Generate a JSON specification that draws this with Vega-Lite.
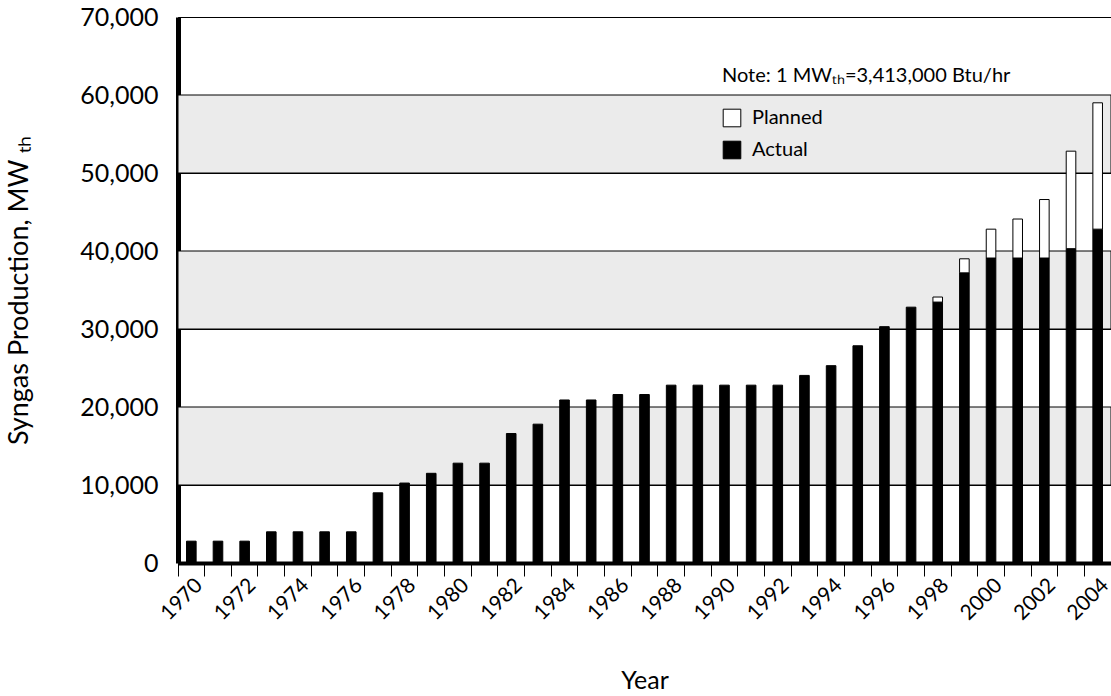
{
  "$schema": "https://vega.github.io/schema/vega-lite/v6.json",
  "width": 933,
  "height": 546,
  "autosize": {"type": "none"},
  "padding": {"left": 178, "top": 17, "right": 0, "bottom": 133},
  "background": "white",
  "config": {
    "font": "Lato",
    "view": {"stroke": "black", "strokeWidth": 1}
  },
  "layer": [
    {
      "data": {"values": [
        {"lo": 10000, "hi": 20000},
        {"lo": 30000, "hi": 40000},
        {"lo": 50000, "hi": 60000}
      ]},
      "mark": {"type": "rect", "fill": "#ebebeb", "stroke": "black", "strokeWidth": 1},
      "encoding": {
        "y": {
          "field": "lo", "type": "quantitative", "scale": {"domain": [0, 70000]},
          "axis": {
            "title": "Syngas Production, MW ₜₕ",
            "format": ",.0f",
            "values": [0, 10000, 20000, 30000, 40000, 50000, 60000, 70000],
            "ticks": false,
            "grid": true,
            "gridColor": "black",
            "gridWidth": 1,
            "gridOpacity": 1,
            "domainColor": "black",
            "domainWidth": 5,
            "labelFontSize": 25,
            "labelColor": "black",
            "labelPadding": 20,
            "titleFontSize": 27,
            "titleFontWeight": "normal",
            "titleColor": "black",
            "titlePadding": 46
          }
        },
        "y2": {"field": "hi"}
      }
    },
    {
      "data": {"values": [
        {"year": 1970, "type": "Actual", "value": 2800},
        {"year": 1971, "type": "Actual", "value": 2800},
        {"year": 1972, "type": "Actual", "value": 2800},
        {"year": 1973, "type": "Actual", "value": 4000},
        {"year": 1974, "type": "Actual", "value": 4000},
        {"year": 1975, "type": "Actual", "value": 4000},
        {"year": 1976, "type": "Actual", "value": 4000},
        {"year": 1977, "type": "Actual", "value": 9000},
        {"year": 1978, "type": "Actual", "value": 10250},
        {"year": 1979, "type": "Actual", "value": 11500},
        {"year": 1980, "type": "Actual", "value": 12800},
        {"year": 1981, "type": "Actual", "value": 12800},
        {"year": 1982, "type": "Actual", "value": 16600},
        {"year": 1983, "type": "Actual", "value": 17800},
        {"year": 1984, "type": "Actual", "value": 20900},
        {"year": 1985, "type": "Actual", "value": 20900},
        {"year": 1986, "type": "Actual", "value": 21600},
        {"year": 1987, "type": "Actual", "value": 21600},
        {"year": 1988, "type": "Actual", "value": 22800},
        {"year": 1989, "type": "Actual", "value": 22800},
        {"year": 1990, "type": "Actual", "value": 22800},
        {"year": 1991, "type": "Actual", "value": 22800},
        {"year": 1992, "type": "Actual", "value": 22800},
        {"year": 1993, "type": "Actual", "value": 24050},
        {"year": 1994, "type": "Actual", "value": 25300},
        {"year": 1995, "type": "Actual", "value": 27850},
        {"year": 1996, "type": "Actual", "value": 30300},
        {"year": 1997, "type": "Actual", "value": 32800},
        {"year": 1998, "type": "Actual", "value": 33450},
        {"year": 1999, "type": "Actual", "value": 37200},
        {"year": 2000, "type": "Actual", "value": 39100},
        {"year": 2001, "type": "Actual", "value": 39100},
        {"year": 2002, "type": "Actual", "value": 39100},
        {"year": 2003, "type": "Actual", "value": 40300},
        {"year": 2004, "type": "Actual", "value": 42800},
        {"year": 1998, "type": "Planned", "value": 650},
        {"year": 1999, "type": "Planned", "value": 1800},
        {"year": 2000, "type": "Planned", "value": 3700},
        {"year": 2001, "type": "Planned", "value": 5000},
        {"year": 2002, "type": "Planned", "value": 7500},
        {"year": 2003, "type": "Planned", "value": 12500},
        {"year": 2004, "type": "Planned", "value": 16200}
      ]},
      "mark": {"type": "bar", "stroke": "black", "strokeWidth": 1, "width": {"band": 0.36}},
      "encoding": {
        "x": {
          "field": "year", "type": "ordinal",
          "scale": {"paddingInner": 0, "paddingOuter": 0},
          "axis": {
            "title": "Year",
            "bandPosition": 0,
            "labelOffset": 8,
            "labelAngle": -45,
            "labelAlign": "right",
            "labelBaseline": "middle",
            "labelExpr": "datum.value % 2 == 0 ? datum.label : ''",
            "labelOverlap": false,
            "labelFontSize": 21,
            "labelColor": "black",
            "labelPadding": 6,
            "tickSize": 13,
            "tickColor": "black",
            "tickWidth": 1,
            "domainColor": "black",
            "domainWidth": 4,
            "titleFontSize": 25,
            "titleFontWeight": "normal",
            "titleColor": "black",
            "titlePadding": 45
          }
        },
        "y": {
          "field": "value", "type": "quantitative", "stack": "zero",
          "scale": {"domain": [0, 70000]},
          "axis": {
            "title": "Syngas Production, MW ₜₕ",
            "format": ",.0f",
            "values": [0, 10000, 20000, 30000, 40000, 50000, 60000, 70000],
            "ticks": false,
            "grid": true,
            "gridColor": "black",
            "gridWidth": 1,
            "gridOpacity": 1,
            "domainColor": "black",
            "domainWidth": 5,
            "labelFontSize": 25,
            "labelColor": "black",
            "labelPadding": 20,
            "titleFontSize": 27,
            "titleFontWeight": "normal",
            "titleColor": "black",
            "titlePadding": 46
          }
        },
        "color": {
          "field": "type", "type": "nominal",
          "scale": {"domain": ["Planned", "Actual"], "range": ["white", "black"]},
          "legend": {
            "orient": "none",
            "legendX": 544,
            "legendY": 49,
            "direction": "vertical",
            "title": "Note: 1 MWₜₕ=3,413,000 Btu/hr",
            "titleFontSize": 20,
            "titleFontWeight": "normal",
            "titleColor": "black",
            "titleLimit": 500,
            "titlePadding": 22,
            "symbolType": "square",
            "symbolSize": 310,
            "symbolStrokeColor": "black",
            "symbolStrokeWidth": 1,
            "labelFontSize": 20,
            "labelColor": "black",
            "labelOffset": 10,
            "rowPadding": 10,
            "padding": 0
          }
        },
        "order": {"field": "type", "sort": "ascending"}
      }
    }
  ]
}
